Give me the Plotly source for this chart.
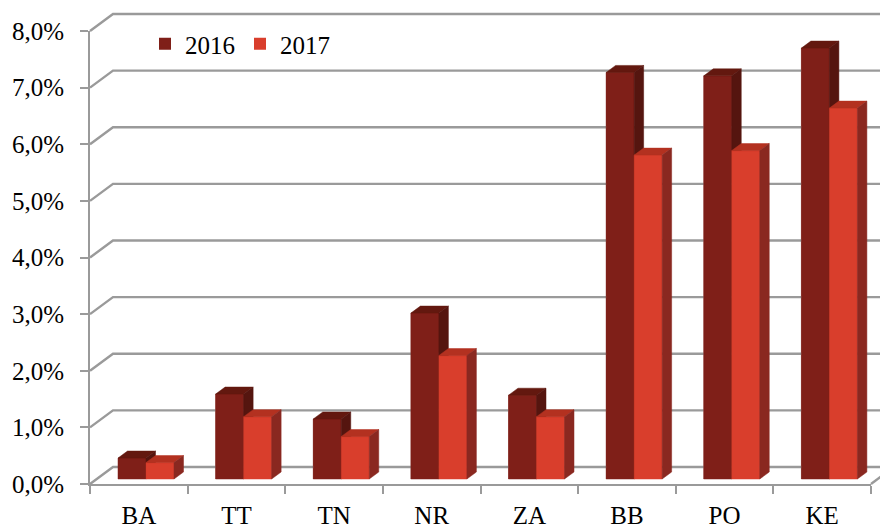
import plotly.graph_objects as go

# ---- data ----
categories = ["BA", "TT", "TN", "NR", "ZA", "BB", "PO", "KE"]
series_names = ["2016", "2017"]
values_2016 = [0.37, 1.50, 1.06, 2.93, 1.48, 7.18, 7.12, 7.61]
values_2017 = [0.29, 1.10, 0.75, 2.18, 1.10, 5.72, 5.80, 6.55]
y_tick_values = [0, 1, 2, 3, 4, 5, 6, 7, 8]
y_tick_labels = ["0,0%", "1,0%", "2,0%", "3,0%", "4,0%", "5,0%", "6,0%", "7,0%", "8,0%"]

# ---- geometry (pixels, in the 888x528 window; page body has an 8px margin) ----
OFF = 8
W, H = 888 - OFF, 528 - OFF
AX_L, AX_R = 90 - OFF, 871 - OFF      # front axis x extent
Y0_PX, Y8_PX = 484 - OFF, 31 - OFF    # front axis 0% and 8%
PX_X = (AX_R - AX_L) / len(categories)
PX_Y = (Y0_PX - Y8_PX) / 8.0

def ux(px):
    return px / PX_X

def uy(px):
    return px / PX_Y

BACK_DX, BACK_DY = ux(23), uy(17)   # back wall offset
MID_DX, MID_DY = ux(7.2), uy(5)     # bars placed at mid depth
BAR_DX, BAR_DY = ux(9.5), uy(7)     # bar depth
BAR_W = ux(28)

colors = {
    "2016": {"front": "#7F1F18", "top": "#63180F", "side": "#55150F"},
    "2017": {"front": "#D93E2C", "top": "#B33120", "side": "#8A2820"},
}
GRID = "#9A9A9A"
FONT = '"Liberation Serif", "Times New Roman", Times, serif'

fig = go.Figure()

# ---- gridlines: side wall diagonals + back wall horizontals ----
gx, gy = [], []
n = len(categories)
xmax = n + BACK_DX + 0.5
for v in y_tick_values:
    gx += [0, BACK_DX, xmax, None]
    gy += [v, v + BACK_DY, v + BACK_DY, None]
# floor right edge
gx += [n, n + BACK_DX, None]
gy += [0, BACK_DY, None]
fig.add_trace(go.Scatter(x=gx, y=gy, mode="lines", line=dict(color=GRID, width=2.4),
                         hoverinfo="skip", showlegend=False))

# ---- 3D bars ----
for si, (name, vals) in enumerate(zip(series_names, [values_2016, values_2017])):
    c = colors[name]
    xs_center = [i + 0.5 + MID_DX + (si - 0.5) * BAR_W for i in range(n)]
    fig.add_trace(go.Bar(x=xs_center, y=vals, base=[MID_DY] * n, width=BAR_W,
                         marker=dict(color=c["front"], line=dict(width=0)),
                         name=name, showlegend=True))
    fx, fy, tx, ty, sx, sy = [], [], [], [], [], []
    for xc, v in zip(xs_center, vals):
        xl, xr = xc - BAR_W / 2, xc + BAR_W / 2
        top = MID_DY + v
        fx += [xl, xr, xr, xl, xl, None]
        fy += [MID_DY, MID_DY, top, top, MID_DY, None]
        tx += [xl, xr, xr + BAR_DX, xl + BAR_DX, xl, None]
        ty += [top, top, top + BAR_DY, top + BAR_DY, top, None]
        sx += [xr, xr, xr + BAR_DX, xr + BAR_DX, xr, None]
        sy += [MID_DY, top, top + BAR_DY, MID_DY + BAR_DY, MID_DY, None]
    for px_, py_, col in [(fx, fy, c["front"]), (tx, ty, c["top"]), (sx, sy, c["side"])]:
        fig.add_trace(go.Scatter(x=px_, y=py_, fill="toself", fillcolor=col, mode="lines",
                                 line=dict(width=0.5, color=col), hoverinfo="skip",
                                 showlegend=False))

# ---- front axes subplot (labels, axis lines) ----
fig.add_trace(go.Scatter(x=categories, y=[0] * n, mode="markers", marker=dict(opacity=0),
                         xaxis="x2", yaxis="y2", hoverinfo="skip", showlegend=False))

fig.update_layout(
    template="none",
    width=W, height=H,
    margin=dict(l=0, r=0, t=0, b=0, pad=0, autoexpand=False),
    paper_bgcolor="white", plot_bgcolor="rgba(0,0,0,0)",
    barmode="overlay",
    font=dict(family=FONT, size=25, color="black"),
    xaxis=dict(domain=[0, 1], range=[ux(-AX_L), ux(W - AX_L)], visible=False,
               fixedrange=True, automargin=False),
    yaxis=dict(domain=[0, 1], range=[uy(Y0_PX - H), uy(Y0_PX)], visible=False,
               fixedrange=True, automargin=False),
    xaxis2=dict(domain=[AX_L / W, AX_R / W], anchor="y2", type="category",
                categoryorder="array", categoryarray=categories, automargin=False,
                range=[-0.5, n - 0.5], tickson="boundaries", ticks="outside", ticklen=8,
                tickcolor=GRID, tickwidth=2, showline=True, linecolor=GRID, linewidth=2,
                showgrid=False, zeroline=False, ticklabelstandoff=8,
                tickfont=dict(family=FONT, size=25, color="black")),
    yaxis2=dict(domain=[(H - Y0_PX) / H, (H - Y8_PX) / H], anchor="x2", range=[0, 8],
                automargin=False,
                tickvals=y_tick_values, ticktext=y_tick_labels, ticks="outside", ticklen=8,
                tickcolor=GRID, tickwidth=2, showline=True, linecolor=GRID, linewidth=2,
                showgrid=False, zeroline=False, ticklabelstandoff=11,
                tickfont=dict(family=FONT, size=25, color="black")),
    legend=dict(orientation="h", x=137 / W, xanchor="left", y=1 - 13 / H, yanchor="top",
                bgcolor="rgba(0,0,0,0)", font=dict(family=FONT, size=25, color="black"),
                itemwidth=30, traceorder="normal"),
    showlegend=True,
)

fig.write_html("out.html")
